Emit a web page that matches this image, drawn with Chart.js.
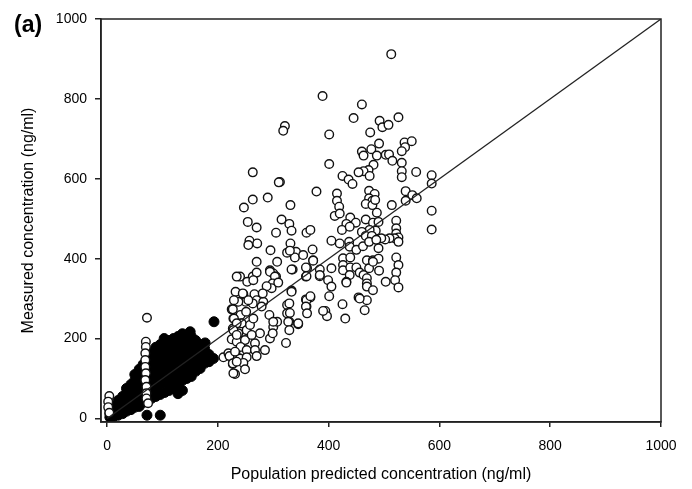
<!DOCTYPE html>
<html>
<head>
<meta charset="utf-8">
<title>Measured vs population predicted concentration</title>
<script src="https://cdn.jsdelivr.net/npm/chart.js@4.4.1/dist/chart.umd.min.js"></script>
<style>
    body { margin: 0; background: #fff; }
</style>
</head>
<body>
<canvas id="myChart" width="692" height="489"></canvas>
<script>
// data (ng/ml) //

const xTicks = [0, 200, 400, 600, 800, 1000];
const yTicks = [0, 200, 400, 600, 800, 1000];

// line of identity
const identityLine = [0, 1000];

// open circles: [predicted, measured]
const openPoints = [
    [513,912],[389,807],[460,786],[445,752],[492,745],[497,729],[508,735],[526,754],[321,732],[318,720],
    [475,716],[401,711],[491,688],[477,674],[460,668],[463,658],[487,658],[503,660],[509,661],[537,691],
    [538,679],[532,669],[550,694],[515,645],[532,640],[401,637],[481,635],[472,622],[463,619],[454,616],
    [474,607],[425,607],[436,598],[443,587],[532,619],[532,604],[558,617],[586,609],[586,588],[312,592],
    [263,616],[310,591],[290,553],[263,548],[247,528],
    [378,568],[415,563],[415,545],[419,530],[411,507],[420,513],[473,570],[483,562],[473,551],[479,545],
    [467,537],[479,534],[484,547],[331,534],[539,569],[551,559],[559,551],[539,545],[586,520],[586,473],
    [514,534],[487,515],[439,503],[432,487],[449,490],[424,472],[438,480],[467,498],[480,490],[490,492],
    [485,470],[474,472],[460,467],[467,457],[478,457],[522,495],[522,476],[522,463],[526,453],[519,451],
    [510,451],[502,448],[495,451],[526,442],[315,498],[329,487],[333,470],[360,465],[367,472],[305,465],
    [254,492],[270,478],[257,445],[255,434],[271,438],[295,421],
    [405,445],[420,438],[437,442],[438,430],[450,422],[462,431],[473,442],[486,447],[331,438],[325,415],
    [341,417],[339,403],[354,409],[371,423],[490,426],[330,420],
    [426,401],[439,403],[426,384],[426,371],[439,378],[438,359],[432,342],[450,378],[456,365],[469,396],
    [480,396],[490,400],[473,376],[463,359],[469,351],[469,338],[469,330],[491,370],[503,342],[522,403],
    [526,384],[522,365],[520,346],[526,328],[480,321],[405,376],[384,373],[384,356],[372,396],[361,376],
    [359,355],[335,373],[399,346],[405,330],[401,306],[367,303],[359,298],[360,280],[325,284],[325,263],
    [333,320],[329,242],[345,236],[454,303],[469,296],[425,286],[465,271],[430,250],[394,269],[397,256],
    [456,300],[480,392],
    [270,392],[240,355],[263,355],[270,365],[294,371],[300,363],[305,355],[307,392],[359,378],[372,395],
    [360,356],[384,359],[432,340],
    [253,342],[264,346],[294,367],[303,355],[299,338],[297,326],[309,340],[288,331],[232,317],[246,311],
    [233,292],[250,292],[266,311],[270,296],[282,292],[279,280],[263,288],[225,273],[228,250],[241,259],
    [243,238],[227,225],[237,213],[252,221],[258,234],[264,250],[251,267],[225,198],[234,192],[249,196],
    [241,179],[252,171],[267,188],[267,171],[270,156],[276,213],[261,209],[285,171],[294,200],[300,229],
    [299,213],[307,242],[293,259],[300,242],[210,153],[219,163],[232,161],[240,150],[252,153],[246,139],
    [227,136],[231,111],[249,123],[323,189],[329,288],[330,264],[327,242],[329,221],[345,238],[333,317],
    [360,296],[367,306],[359,280],[361,263],[390,269],[333,373],[245,313],[237,292],[255,296],[281,313],
    [234,355],[229,296],[227,273],[229,250],[234,238],[228,221],[234,209],[221,156],[231,167],[227,138],
    [228,113],[234,142],
    [4,56],[2,42],[2,28],[4,14],[70,192],[70,179],[69,163],[69,146],[69,129],[70,113],
    [69,96],[71,79],[71,63],[71,50],[74,38],[72,252]
];

// filled circles: [predicted, measured]
const filledPoints = [
    [5,3],[5,12],[5,22],[12,5],[12,18],[12,30],[20,8],[20,20],[20,35],[20,45],
    [28,12],[28,25],[28,40],[28,55],[35,18],[35,30],[35,48],[35,62],[35,75],
    [43,22],[43,38],[43,55],[43,70],[43,85],[50,28],[50,45],[50,62],[50,80],[50,95],[50,110],
    [58,30],[58,52],[58,70],[58,88],[58,105],[58,123],[65,40],[65,58],[65,78],[65,95],[65,115],[65,135],
    [72,8],[72,45],[72,65],[72,85],[72,105],[72,125],[72,145],
    [80,50],[80,72],[80,92],[80,112],[80,132],[80,150],[80,165],
    [88,55],[88,78],[88,100],[88,120],[88,140],[88,160],[88,178],
    [96,8],[96,60],[96,85],[96,105],[96,125],[96,145],[96,165],[96,185],[103,200],
    [104,65],[104,90],[104,110],[104,130],[104,150],[104,170],[104,190],
    [112,70],[112,95],[112,115],[112,135],[112,155],[112,175],[112,195],
    [120,75],[120,100],[120,120],[120,140],[120,160],[120,180],[120,200],
    [128,62],[128,85],[128,105],[128,125],[128,145],[128,165],[128,185],[128,205],
    [136,70],[136,95],[136,115],[136,135],[136,155],[136,175],[136,195],[136,212],
    [144,100],[144,120],[144,140],[144,160],[144,180],[144,200],[150,217],
    [152,105],[152,125],[152,145],[152,165],[152,185],[152,205],
    [160,118],[160,135],[160,155],[160,175],[160,195],
    [168,125],[168,145],[168,165],[168,185],[177,189],[176,138],[176,158],[176,175],
    [184,142],[184,160],[192,150],[193,242]
];

const FONT = "'Liberation Sans', Arial, sans-serif";

// rameček kolem grafu + popisek (a)
const framePlugin = {
    id: 'frame',
    afterDraw(chart) {
        const ctx = chart.ctx;
        const a = chart.chartArea;
        ctx.save();
        ctx.strokeStyle = '#222';
        ctx.lineWidth = 1.5;
        ctx.strokeRect(a.left, a.top, a.right - a.left, a.bottom - a.top);
        ctx.fillStyle = '#000';
        ctx.font = "bold 23px " + FONT;
        ctx.textAlign = 'left';
        ctx.textBaseline = 'middle';
        ctx.fillText('(a)', 14, 26);
        ctx.restore();
    }
};

document.addEventListener("DOMContentLoaded", function() {

    let ctx = document.getElementById('myChart').getContext('2d');
    let myChart = new Chart(ctx, {
        type: 'scatter',
        data: {
            datasets: [
                {
                    type: 'line',
                    data: identityLine.map(v => ({ x: v, y: v })),
                    borderColor: '#222',
                    borderWidth: 1.3,
                    pointRadius: 0,
                    fill: false,
                    order: 0
                },
                {
                    data: openPoints.map(p => ({ x: p[0], y: p[1] })),
                    pointRadius: 4.3,
                    borderWidth: 1.4,
                    borderColor: '#111',
                    backgroundColor: '#fff',
                    order: 1
                },
                {
                    data: filledPoints.map(p => ({ x: p[0], y: p[1] })),
                    pointRadius: 5,
                    borderWidth: 1,
                    borderColor: '#000',
                    backgroundColor: '#000',
                    order: 2
                }
            ]
        },
        options: {
            responsive: false,
            animation: false,
            devicePixelRatio: 1,
            layout: { padding: { top: 19, right: 31, left: 0, bottom: 0 } },
            plugins: {
                legend: { display: false },
                tooltip: { enabled: false }
            },
            scales: {
                x: {
                    type: 'linear',
                    min: -11,
                    max: 1000,
                    afterBuildTicks: (axis) => { axis.ticks = xTicks.map(v => ({ value: v })); },
                    afterFit: (axis) => { axis.height = 67; },
                    ticks: {
                        color: '#000',
                        font: { size: 14, family: FONT },
                        padding: 11,
                        maxRotation: 0,
                        callback: (v) => String(v)
                    },
                    grid: { drawOnChartArea: false, tickLength: 5, color: '#222', lineWidth: 1.5 },
                    border: { color: '#222', width: 1.5 },
                    title: {
                        display: true,
                        text: 'Population predicted concentration (ng/ml)',
                        color: '#000',
                        font: { size: 16, family: FONT },
                        padding: { top: 4, bottom: 5 }
                    }
                },
                y: {
                    type: 'linear',
                    min: -9,
                    max: 1000,
                    afterBuildTicks: (axis) => { axis.ticks = yTicks.map(v => ({ value: v })); },
                    afterFit: (axis) => { axis.width = 101; },
                    ticks: {
                        color: '#000',
                        font: { size: 14, family: FONT },
                        padding: 8,
                        callback: (v) => String(v)
                    },
                    grid: { drawOnChartArea: false, tickLength: 6, color: '#222', lineWidth: 1.5 },
                    border: { color: '#222', width: 1.5 },
                    title: {
                        display: true,
                        text: 'Measured concentration (ng/ml)',
                        color: '#000',
                        font: { size: 16, family: FONT },
                        padding: { top: 19, bottom: 0 }
                    }
                }
            }
        },
        plugins: [framePlugin]
    });
});
</script>
</body>
</html>
